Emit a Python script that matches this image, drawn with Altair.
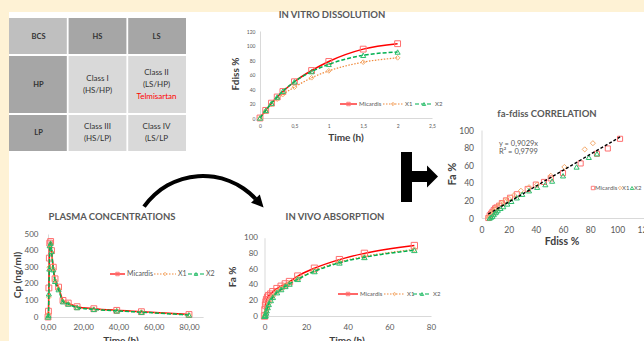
import math
import altair as alt
import pandas as pd

W, H = 644, 341
FONT = "Lato"
CREAM = "#FEF2D5"
GRAYTXT = "#595959"
DARKTXT = "#404040"

# ---------------- data ----------------
table_cols = ["BCS", "HS", "LS"]
table_header = ["BCS", "HS", "LS"]
table_row_heads = ["HP", "LP"]
table_hp = ["Class I\n(HS/HP)", "Class II\n(LS/HP)"]
table_lp = ["Class III\n(HS/LP)", "Class IV\n(LS/LP"]
table_drug = "Telmisartan"

series = ["Micardis", "X1", "X2"]

# in vitro dissolution (Fdiss %, time h)
vitro_t = [0, 0.083, 0.167, 0.25, 0.333, 0.5, 0.75, 1, 1.5, 2]
vitro_mic = [0, 10.5, 20.5, 29, 36.5, 50, 65.5, 78, 95, 102.5]
vitro_x1 = [0, 9.5, 19, 26, 32.5, 42.5, 55.5, 65, 77, 83]
vitro_x2 = [0, 10.5, 20.5, 29, 37, 50, 64, 74, 86.5, 91]

# plasma concentrations (ng/ml), times
pk_t = [0, 0.25, 0.5, 0.75, 1, 1.5, 2, 3, 4, 6, 8.5, 11.5, 16.5, 26, 39, 53, 80]
pk_mic = [0, 35, 175, 355, 445, 455, 400, 300, 230, 180, 100, 84, 62, 50, 40, 32, 15]
pk_x1 = [0, 20, 120, 300, 420, 440, 390, 290, 220, 170, 95, 80, 58, 47, 38, 30, 13]
pk_x2 = [0, 10, 140, 290, 430, 445, 395, 285, 215, 165, 92, 78, 57, 46, 37, 29, 12]

# in vivo absorption (Fa %)
fa_t = [0, 0.25, 0.5, 0.75, 1, 1.5, 2, 3, 4, 6, 8, 10, 12, 16, 24, 36, 48, 72]
fa_mic = [0, 8, 14, 18, 21, 24, 26, 28, 31, 35, 38, 41, 44, 51, 61, 72, 80, 90]
fa_x1 = [0, 0, 2, 5, 8, 12, 16, 21, 25, 31, 35, 39, 42, 48, 58, 69, 76, 85]
fa_x2 = [0, 0, 1, 4, 7, 11, 15, 20, 24, 30, 34, 38, 41, 47, 57, 68, 75, 84]

# fa - fdiss correlation
corr_mic_fdiss = [5, 6, 7, 8, 9, 10, 11, 13, 15, 18, 21, 26, 34, 40, 46, 51, 60, 73, 85, 93, 102]
corr_mic_fa = [0, 3, 5, 7, 9, 11, 12, 14, 17, 20, 23, 27, 33, 38, 41, 45, 51, 62, 73, 79, 90]
corr_x1_fdiss = [5, 6, 7, 8, 9, 10, 12, 14, 17, 20, 24, 29, 35, 41, 51, 61, 76, 82]
corr_x1_fa = [0, 2, 4, 6, 8, 10, 13, 16, 19, 22, 26, 31, 35, 38, 48, 58, 78, 85]
corr_x2_fdiss = [6, 7, 8, 9, 10, 11, 12, 14, 16, 19, 22, 26, 30, 35, 41, 47, 52, 60, 70, 79, 85]
corr_x2_fa = [0, 1, 2, 4, 6, 7, 9, 11, 13, 16, 19, 23, 27, 31, 35, 38, 42, 48, 58, 69, 73]
trend_slope = 0.9029
trend_r2 = 0.9799
trend_x = [5, 102]

# ---------------- layout ----------------
PANELS = {
    "vitro": dict(xd=[0, 2.5], xr=[260, 432], yd=[0, 120], yr=[118, 31]),
    "corr": dict(xd=[0, 120], xr=[481.5, 644.5], yd=[0, 100], yr=[218, 130]),
    "plasma": dict(xd=[0, 88], xr=[48, 203.1], yd=[0, 500], yr=[317, 234]),
    "vivo": dict(xd=[0, 80], xr=[264.5, 431], yd=[0, 100], yr=[316, 237.7]),
}

STY = {
    "Micardis": dict(line="#FF0000", dash=None, shape="square", mk="#FF6F6F"),
    "X1": dict(line="#F08A3C", dash=[1.5, 1.5], shape="diamond", mk="#F4A96A"),
    "X2": dict(line="#00B050", dash=[4, 2], shape="triangle-up", mk="#2DBE6C"),
}

layers = []


def txt(label, x, y, size, weight="normal", color=DARKTXT, angle=None, align="center"):
    kw = dict(align=align, baseline="middle", font=FONT, fontSize=size,
              fontWeight=weight, color=color)
    if angle is not None:
        kw["angle"] = angle
    return alt.Chart(pd.DataFrame({"t": [label]})).mark_text(**kw).encode(
        x=alt.value(x), y=alt.value(y), text="t:N")


def box(x0, x1, y0, y1, color):
    return alt.Chart(pd.DataFrame({"a": [0]})).mark_rect(color=color).encode(
        x=alt.value(x0), x2=alt.value(x1), y=alt.value(y0), y2=alt.value(y1))


def make_axes(p, xvals, yvals, xexpr, fs, xpad, ypad):
    common = dict(domainColor="#D9D9D9", domainWidth=1, ticks=False, grid=False,
                  labelColor=GRAYTXT, labelFont=FONT, labelFontSize=fs,
                  labelFlush=False, labelOverlap=False, title=None, zindex=0)
    xa = alt.Axis(orient="bottom", offset=p["yr"][0] - H, values=xvals,
                  labelExpr=xexpr, labelPadding=xpad, **common)
    ya = alt.Axis(orient="left", offset=-p["xr"][0], values=yvals,
                  labelPadding=ypad, **common)
    return xa, ya


def series_layers(pk, xs, ys, name, axes=None, line=True, msize=30, lw=1.5):
    p = PANELS[pk]
    s = STY[name]
    df = pd.DataFrame({"x": xs, "y": ys})
    xsc = alt.Scale(domain=p["xd"], range=p["xr"], nice=False, zero=False)
    ysc = alt.Scale(domain=p["yd"], range=p["yr"], nice=False, zero=False)
    out = []
    first = True
    if line:
        kw = dict(color=s["line"], strokeWidth=lw, interpolate="monotone")
        if s["dash"]:
            kw["strokeDash"] = s["dash"]
        xa, ya = (axes if axes else (None, None))
        out.append(alt.Chart(df).mark_line(**kw).encode(
            x=alt.X("x:Q", scale=xsc, axis=xa), y=alt.Y("y:Q", scale=ysc, axis=ya)))
        first = False
    xa, ya = (axes if (axes and first) else (None, None))
    out.append(alt.Chart(df).mark_point(shape=s["shape"], filled=False, color=s["mk"],
                                        size=msize, strokeWidth=1, opacity=1).encode(
        x=alt.X("x:Q", scale=xsc, axis=xa), y=alt.Y("y:Q", scale=ysc, axis=ya)))
    return out


def legend_item(name, x0, x1, y, fs, line=True, msize=12):
    s = STY[name]
    d = pd.DataFrame({"label": [name]})
    out = []
    if line:
        kw = dict(color=s["line"], strokeWidth=1.2)
        if s["dash"]:
            kw["strokeDash"] = s["dash"]
        out.append(alt.Chart(d).mark_rule(**kw).encode(
            x=alt.value(x0), x2=alt.value(x1), y=alt.value(y)))
    out.append(alt.Chart(d).mark_point(shape=s["shape"], filled=False, color=s["mk"],
                                       size=msize, strokeWidth=0.9, opacity=1).encode(
        x=alt.value((x0 + x1) / 2), y=alt.value(y)))
    out.append(alt.Chart(d).mark_text(align="left", baseline="middle", font=FONT,
                                      fontSize=fs, color=GRAYTXT).encode(
        x=alt.value(x1 + 2), y=alt.value(y), text="label:N"))
    return out


# cream frame strips (top and left) on white background
layers.append(box(0, W, 0, 12, CREAM))
layers.append(box(0, 9, 0, H, CREAM))

# ---------------- BCS table ----------------
col_scale = alt.Scale(domain=table_cols, range=[9, 186], paddingInner=0.03, paddingOuter=0)
kind_scale = alt.Scale(domain=["corner", "head", "body"],
                       range=["#BFBFBF", "#A6A6A6", "#D9D9D9"])


def table_row(kinds, y0, y1):
    df = pd.DataFrame({"col": table_cols, "kind": kinds})
    return alt.Chart(df).mark_rect().encode(
        x=alt.X("col:N", scale=col_scale, axis=None),
        y=alt.value(y0), y2=alt.value(y1),
        color=alt.Color("kind:N", scale=kind_scale, legend=None))


def table_text(cols, labels, yfirst, weight="normal", color="#333333", size=8):
    df = pd.DataFrame({"col": cols, "label": labels})
    return alt.Chart(df).mark_text(font=FONT, fontSize=size, fontWeight=weight, color=color,
                                   lineBreak="\n", lineHeight=12, baseline="middle").encode(
        x=alt.X("col:N", scale=col_scale, axis=None, bandPosition=0.5),
        y=alt.value(yfirst), text="label:N")


layers.append(table_row(["corner", "head", "head"], 18, 54))
layers.append(table_row(["head", "body", "body"], 56, 113))
layers.append(table_row(["head", "body", "body"], 115, 151))
layers.append(table_text(table_cols, table_header, 37, weight="bold", size=7.5))
layers.append(table_text(["BCS"], [table_row_heads[0]], 84.5, weight="bold", size=7.5))
layers.append(table_text(["BCS"], [table_row_heads[1]], 132.5, weight="bold", size=7.5))
layers.append(table_text(["HS"], [table_hp[0]], 79))
layers.append(table_text(["LS"], [table_hp[1]], 73))
layers.append(table_text(["LS"], [table_drug], 97, color="#FF0000"))
layers.append(table_text(["HS", "LS"], table_lp, 127))

# ---------------- in vitro ----------------
p = PANELS["vitro"]
ax = make_axes(p, [0, 0.5, 1, 1.5, 2, 2.5], [0, 20, 40, 60, 80, 100, 120],
               "replace(format(datum.value, '.1~f'), '.', ',')", 5, 5, 5)
layers += series_layers("vitro", vitro_t, vitro_mic, "Micardis", axes=ax, msize=34)
layers += series_layers("vitro", vitro_t, vitro_x1, "X1", lw=1.2, msize=22)
layers += series_layers("vitro", vitro_t, vitro_x2, "X2", msize=26)
layers.append(txt("IN VITRO DISSOLUTION", 332, 15, 9.5, "bold", GRAYTXT))
layers.append(txt("Time (h)", 346, 138, 10, "bold"))
layers.append(txt("Fdiss %", 236, 74, 10, "bold", angle=270))
layers += legend_item("Micardis", 340, 357, 104, 6)
layers += legend_item("X1", 383, 403, 104, 6)
layers += legend_item("X2", 415, 433, 104, 6)

# ---------------- correlation ----------------
p = PANELS["corr"]
ax = make_axes(p, [0, 20, 40, 60, 80, 100, 120], [0, 20, 40, 60, 80, 100],
               "format(datum.value, 'd')", 8.5, 7, 8)
layers += series_layers("corr", corr_mic_fdiss, corr_mic_fa, "Micardis", axes=ax, line=False, msize=26)
layers += series_layers("corr", corr_x1_fdiss, corr_x1_fa, "X1", line=False, msize=26)
layers += series_layers("corr", corr_x2_fdiss, corr_x2_fa, "X2", line=False, msize=26)
trend_df = pd.DataFrame({"x": trend_x, "y": [trend_slope * v for v in trend_x]})
layers.append(alt.Chart(trend_df).mark_line(color="black", strokeWidth=1.4, strokeDash=[3, 2]).encode(
    x=alt.X("x:Q", scale=alt.Scale(domain=p["xd"], range=p["xr"], nice=False, zero=False), axis=None),
    y=alt.Y("y:Q", scale=alt.Scale(domain=p["yd"], range=p["yr"], nice=False, zero=False), axis=None)))
layers.append(txt("fa-fdiss CORRELATION", 547, 114, 9.5, "bold", GRAYTXT))
layers.append(txt("Fdiss %", 562, 242, 10.5, "bold"))
layers.append(txt("Fa %", 453, 174, 11, "bold", angle=270))
layers.append(txt("y = " + f"{trend_slope:.4f}".replace(".", ",") + "x", 499, 144, 7.5, color=GRAYTXT, align="left"))
layers.append(txt("R² = " + f"{trend_r2:.4f}".replace(".", ","), 499, 151.5, 7.5, color=GRAYTXT, align="left"))
layers += legend_item("Micardis", 593, 593, 188, 6, line=False)
layers += legend_item("X1", 620, 620, 188, 6, line=False)
layers += legend_item("X2", 632, 632, 188, 6, line=False)

# ---------------- plasma ----------------
p = PANELS["plasma"]
ax = make_axes(p, [0, 20, 40, 60, 80], [0, 100, 200, 300, 400, 500],
               "replace(format(datum.value, '.2f'), '.', ',')", 8, 6.5, 10)
layers += series_layers("plasma", pk_t, pk_mic, "Micardis", axes=ax, msize=34)
layers += series_layers("plasma", pk_t, pk_x1, "X1", lw=1.2, msize=22)
layers += series_layers("plasma", pk_t, pk_x2, "X2", msize=26)
layers.append(txt("PLASMA CONCENTRATIONS", 112, 217, 9.5, "bold", GRAYTXT))
layers.append(txt("Time (h)", 121, 341, 10, "bold"))
layers.append(txt("Cp (ng/ml)", 18, 275, 10, "bold", angle=270))
layers += legend_item("Micardis", 110, 125, 274, 7)
layers += legend_item("X1", 154, 176, 274, 7)
layers += legend_item("X2", 188, 204, 274, 7)

# ---------------- in vivo ----------------
p = PANELS["vivo"]
ax = make_axes(p, [0, 20, 40, 60, 80], [0, 20, 40, 60, 80, 100],
               "format(datum.value, 'd')", 8, 7, 7)
layers += series_layers("vivo", fa_t, fa_mic, "Micardis", axes=ax, msize=40)
layers += series_layers("vivo", fa_t, fa_x1, "X1", lw=1.2, msize=26)
layers += series_layers("vivo", fa_t, fa_x2, "X2", msize=30)
layers.append(txt("IN VIVO ABSORPTION", 335, 217, 9.5, "bold", GRAYTXT))
layers.append(txt("Time (h)", 347, 341, 10, "bold"))
layers.append(txt("Fa %", 233, 277, 10, "bold", angle=270))
layers += legend_item("Micardis", 338, 358, 294, 6)
layers += legend_item("X1", 384, 405, 294, 6)
layers += legend_item("X2", 413, 431, 294, 6)

# ---------------- arrows ----------------
one = pd.DataFrame({"a": [0]})
layers.append(alt.Chart(one).mark_arc(color="black", radius=74, radius2=70,
                                      theta=2 * math.pi - 0.96, theta2=2 * math.pi + 0.82).encode(
    x=alt.value(203), y=alt.value(248)))
layers.append(alt.Chart(one).mark_point(shape="M -1 -1 L 1 0 L -1 1 Z", filled=True, color="black",
                                        opacity=1, size=144, angle=47).encode(
    x=alt.value(259.5), y=alt.value(203)))
layers.append(box(401, 412, 152, 202, "black"))
layers.append(box(412, 428, 171, 182, "black"))
layers.append(alt.Chart(one).mark_point(shape="M -0.5 -1 L 0.5 0 L -0.5 1 Z", filled=True, color="black",
                                        opacity=1, size=484).encode(
    x=alt.value(432.5), y=alt.value(176.5)))

chart = alt.layer(*layers).resolve_scale(
    x="independent", y="independent"
).resolve_axis(
    x="independent", y="independent"
).properties(
    width=W, height=H, padding=0, background="white",
    autosize=alt.AutoSizeParams(type="none")
).configure_view(stroke=None)

chart.save("out.html", embed_options={"renderer": "svg", "actions": False})
